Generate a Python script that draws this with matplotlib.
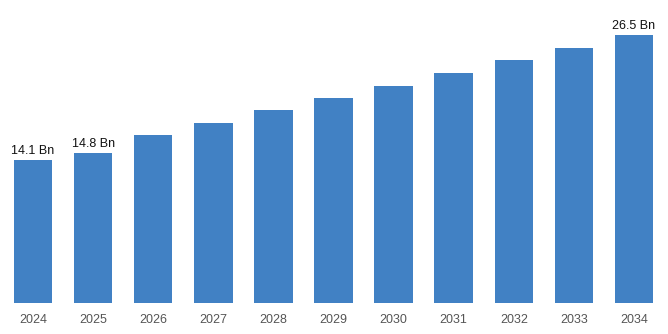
import matplotlib.pyplot as plt

years = ['2024', '2025', '2026', '2027', '2028', '2029', '2030', '2031', '2032', '2033', '2034']
values = [14.1, 14.8, 16.6, 17.8, 19.1, 20.3, 21.5, 22.8, 24.0, 25.2, 26.5]
labels = {0: '14.1 Bn', 1: '14.8 Bn', 10: '26.5 Bn'}

plt.rcParams['font.family'] = ['Liberation Sans', 'DejaVu Sans']

fig = plt.figure(figsize=(6.68, 3.34), dpi=100)
ax = fig.add_axes([3 / 668, 1 - 303 / 334, 661 / 668, 283 / 334])

x = list(range(len(years)))
ax.bar(x, values, width=0.64, color='#4181c4')

# value labels on selected bars
for i, txt in labels.items():
    ax.text(i, values[i] + 0.35, txt, ha='center', va='bottom', fontsize=9, color='#111111')

ax.set_xlim(-0.5, 10.5)
ax.set_ylim(0, 28)
ax.set_xticks(x)
ax.set_xticklabels(years, fontsize=9, color='#555555')
ax.tick_params(axis='x', length=0, pad=8)
ax.set_yticks([])
for s in ax.spines.values():
    s.set_visible(False)

fig.savefig('out.png', dpi=100)
